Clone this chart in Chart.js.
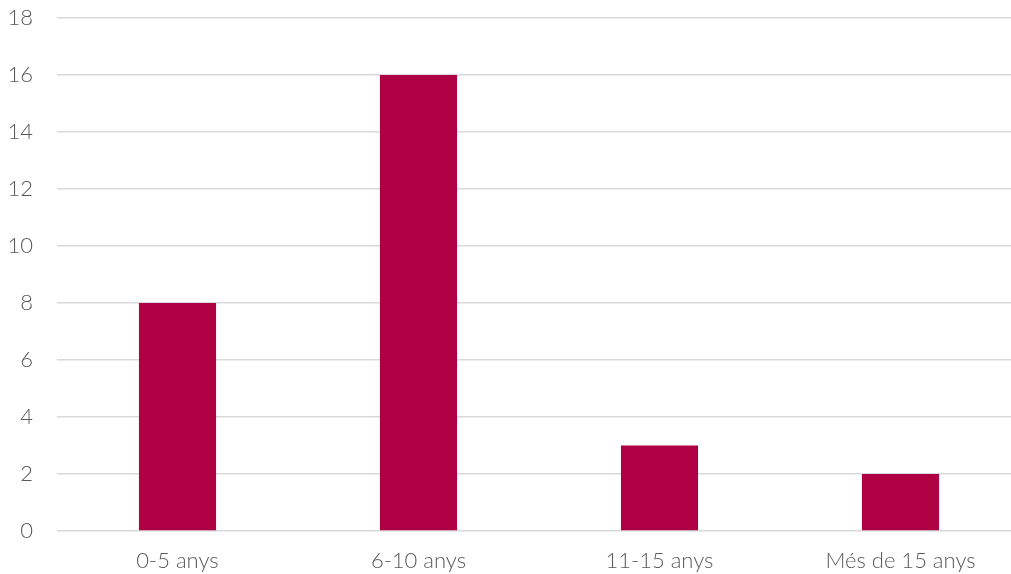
<!DOCTYPE html>
<html><head><meta charset="utf-8">
<script src="https://cdn.jsdelivr.net/npm/chart.js@4/dist/chart.umd.min.js"></script>
<style>html,body{margin:0;padding:0;background:#fff;overflow:hidden;width:1011px;height:574px}#w{width:1021px;height:574px}</style>
</head><body><div id="w"><canvas id="c"></canvas></div>
<script>
const categories = ["0-5 anys", "6-10 anys", "11-15 anys", "Més de 15 anys"];
const values = [8, 16, 3, 2];
const yTicks = [0, 2, 4, 6, 8, 10, 12, 14, 16, 18];

new Chart(document.getElementById('c'), {
  type: 'bar',
  data: { labels: categories, datasets: [{ data: values, backgroundColor: '#AE0042', barPercentage: 0.32, categoryPercentage: 1 }] },
  options: {
    responsive: true, maintainAspectRatio: false, animation: false,
    layout: { padding: { top: 18, bottom: 0, left: 0, right: 0 } },
    plugins: { legend: { display: false }, tooltip: { enabled: false } },
    scales: {
      x: {
        afterFit: s => { s.height = 43; s.paddingLeft = 0; s.paddingRight = 0; },
        grid: { display: false, drawTicks: false },
        border: { display: false },
        ticks: { color: '#595959', font: { family: 'Lato', size: 22, weight: 300 }, padding: 17, maxRotation: 0 }
      },
      y: {
        min: 0, max: 18,
        afterFit: s => { s.width = 57; s.paddingTop = 0; s.paddingBottom = 0; },
        afterBuildTicks: ax => { ax.ticks = yTicks.map(v => ({ value: v })); },
        grid: { color: '#D9D9D9', lineWidth: 1.5, drawTicks: false },
        border: { display: false },
        ticks: { color: '#595959', font: { family: 'Lato', size: 22, weight: 300 }, padding: 24 }
      }
    }
  }
});
</script></body></html>
